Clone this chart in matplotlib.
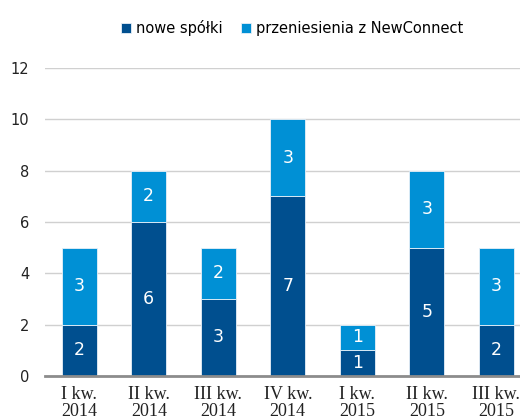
import matplotlib.pyplot as plt
import numpy as np

categories = ["I kw.\n2014", "II kw.\n2014", "III kw.\n2014", "IV kw.\n2014",
              "I kw.\n2015", "II kw.\n2015", "III kw.\n2015"]
nowe = [2, 6, 3, 7, 1, 5, 2]
przeniesienia = [3, 2, 2, 3, 1, 3, 3]

DARK = "#004F8F"
LIGHT = "#0090D5"

fig = plt.figure(figsize=(5.2, 4.19), dpi=100)
ax = fig.add_axes([44.5 / 520, 1 - 376 / 419, (531 - 44.5) / 520, (376 - 68) / 419])

x = np.arange(len(categories))
b1 = ax.bar(x, nowe, width=0.5, color=DARK, edgecolor="#E8F0F8", linewidth=0.6,
            label="nowe spółki", zorder=3)
b2 = ax.bar(x, przeniesienia, width=0.5, bottom=nowe, color=LIGHT, edgecolor="#E8F0F8",
            linewidth=0.6, label="przeniesienia z NewConnect", zorder=3)

for bars, vals, base in ((b1, nowe, [0] * len(nowe)), (b2, przeniesienia, nowe)):
    for xi, v, b0 in zip(x, vals, base):
        ax.text(xi, b0 + v / 2, str(v), ha="center", va="center", color="white",
                fontsize=12.5, zorder=4)

ax.set_xlim(-0.5, len(categories) - 0.5)
ax.set_ylim(0, 12)
ax.set_yticks(range(0, 13, 2))
ax.set_xticks(x)
ax.set_xticklabels(categories, family="Liberation Serif", fontsize=13, linespacing=1.05)
ax.tick_params(axis="both", length=0, labelsize=10.5, colors="#222222")
ax.tick_params(axis="y", pad=11)
ax.tick_params(axis="x", pad=7, labelsize=13)
ax.grid(axis="y", color="#D0D0D0", linewidth=1.0, zorder=0)
for s in ("top", "right", "left"):
    ax.spines[s].set_visible(False)
ax.spines["bottom"].set_color("#8C8C8C")
ax.spines["bottom"].set_linewidth(2)
ax.spines["bottom"].set_zorder(5)

fig.legend(handles=[b1, b2], loc="center", bbox_to_anchor=(292 / 520, 1 - 28 / 419),
           ncol=2, frameon=False, fontsize=10.5, handlelength=0.7, handleheight=0.7,
           handletextpad=0.3, columnspacing=1.3)

fig.savefig("out.png", dpi=100)
